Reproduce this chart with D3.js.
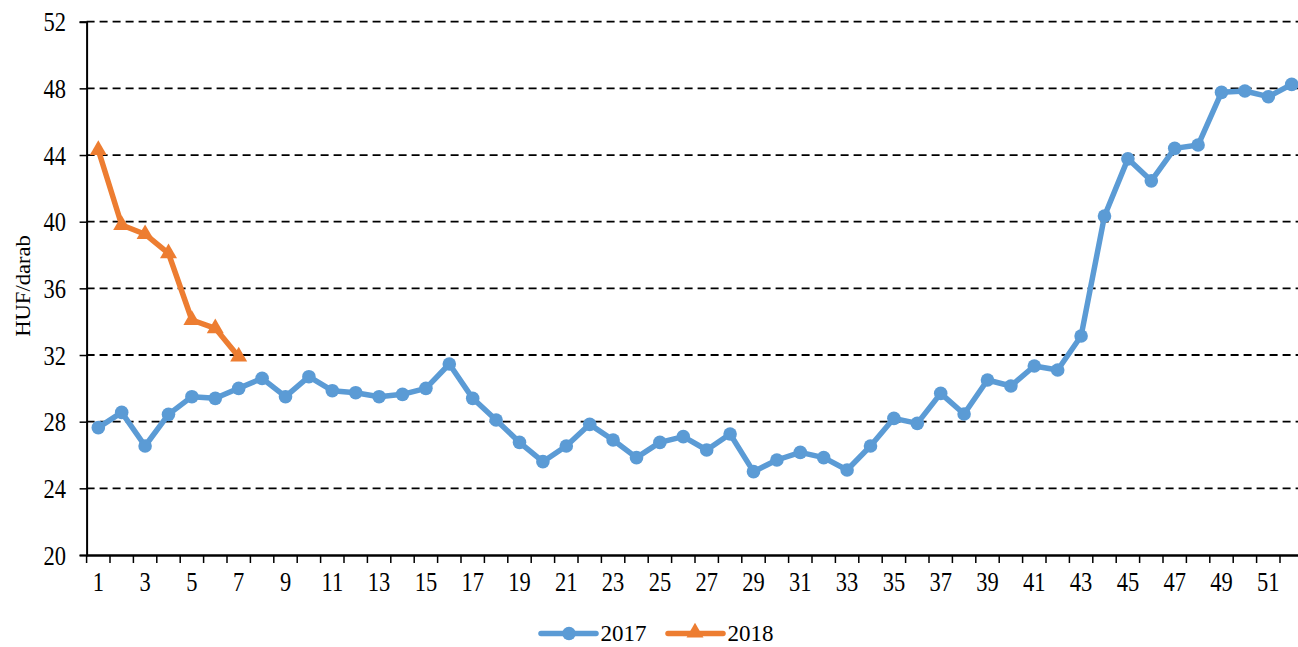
<!DOCTYPE html>
<html><head><meta charset="utf-8">
<script src="https://cdn.jsdelivr.net/npm/d3@7"></script>
<style>body{margin:0;background:#fff}svg{display:block}</style>
</head><body>
<svg id="c" width="1298" height="647"></svg>
<script>
const weeks = d3.range(1, 53);
const values2017 = [27.64,28.56,26.54,28.44,29.5,29.4,30.0,30.6,29.5,30.7,29.86,29.74,29.5,29.64,30.0,31.46,29.4,28.1,26.76,25.6,26.54,27.84,26.9,25.84,26.76,27.1,26.3,27.26,25.0,25.7,26.16,25.84,25.1,26.54,28.2,27.9,29.7,28.46,30.5,30.14,31.34,31.1,33.14,40.34,43.77,42.45,44.4,44.6,47.76,47.84,47.5,48.24];
const values2018 = [44.3,39.8,39.25,38.1,34.1,33.6,31.9];
const yTicks = [20,24,28,32,36,40,44,48,52];
const seriesNames = ["2017","2018"];
const colors = ["#5B9BD5","#ED7D31"];

(function(){
const svg = d3.select("#c");
const mLeft = 86.6, mRight = 1303.4, mTop = 21.7, mBottom = 555;
const x = d3.scaleBand().domain(weeks).range([mLeft, mRight]);
const y = d3.scaleLinear().domain([20, 52]).range([mBottom, mTop]);
const font = "'Liberation Serif','Times New Roman',serif";
const fs = 22.5, sy = 1.2;

// gridlines
svg.append("g").selectAll("line").data(yTicks.filter(d => d > 20)).join("line")
  .attr("x1", mLeft).attr("x2", 1298).attr("y1", d => y(d)).attr("y2", d => y(d))
  .attr("stroke", "#000").attr("stroke-width", 1.8).attr("stroke-dasharray", "8,5");

// y axis
const yAxis = svg.append("g").attr("transform", `translate(${mLeft},0)`)
  .call(d3.axisLeft(y).tickValues(yTicks).tickSize(7));
yAxis.select(".domain").attr("stroke", "#000").attr("stroke-width", 2);
yAxis.selectAll(".tick line").attr("stroke", "#000").attr("stroke-width", 1.5);
yAxis.selectAll("text").attr("font-family", font).attr("font-size", fs).attr("fill", "#000")
  .attr("x", -20.5).attr("dy", null).attr("y", 0).attr("transform", `scale(1,${sy}) translate(0,${0.34*fs})`);

// x axis
const xAxis = svg.append("g").attr("transform", `translate(0,${mBottom})`)
  .call(d3.axisBottom(x).tickValues(weeks.filter(d => d % 2 === 1)).tickSize(0));
xAxis.select(".domain").attr("stroke", "#000").attr("stroke-width", 2.5);
xAxis.selectAll("text").attr("font-family", font).attr("font-size", fs).attr("fill", "#000")
  .attr("dy", null).attr("y", 0).attr("transform", `translate(0,36) scale(1,${sy})`);
svg.append("g").selectAll("line").data(weeks).join("line")
  .attr("x1", d => x(d)).attr("x2", d => x(d)).attr("y1", mBottom).attr("y2", mBottom + 8)
  .attr("stroke", "#000").attr("stroke-width", 1.5);

// y label
svg.append("text").attr("transform", `translate(30,286) rotate(-90) scale(1.05,1)`)
  .attr("text-anchor", "middle").attr("font-family", font).attr("font-size", 21.5).text("HUF/darab");

const cx = d => x(d) + x.bandwidth() / 2;
const line = d3.line().x((d, i) => cx(weeks[i])).y(d => y(d));

svg.append("path").datum(values2017).attr("d", line).attr("fill", "none")
  .attr("stroke", colors[0]).attr("stroke-width", 5.5).attr("stroke-linejoin", "round");
svg.append("g").selectAll("circle").data(values2017).join("circle")
  .attr("cx", (d, i) => cx(weeks[i])).attr("cy", d => y(d)).attr("r", 6.8).attr("fill", colors[0]);

svg.append("path").datum(values2018).attr("d", line).attr("fill", "none")
  .attr("stroke", colors[1]).attr("stroke-width", 5.5).attr("stroke-linejoin", "round");
const tri = d3.symbol().type(d3.symbolTriangle).size(125);
svg.append("g").selectAll("path").data(values2018).join("path")
  .attr("transform", (d, i) => `translate(${cx(weeks[i])},${y(d)})`).attr("d", tri).attr("fill", colors[1]);

const leg = [{x: 541, name: seriesNames[0], c: colors[0], m: "c"}, {x: 668, name: seriesNames[1], c: colors[1], m: "t"}];
const ly = 633.5;
leg.forEach(l => {
  svg.append("line").attr("x1", l.x).attr("x2", l.x + 55).attr("y1", ly).attr("y2", ly)
    .attr("stroke", l.c).attr("stroke-width", 5.5).attr("stroke-linecap", "round");
  if (l.m === "c") svg.append("circle").attr("cx", l.x + 28).attr("cy", ly).attr("r", 6.8).attr("fill", l.c);
  else svg.append("path").attr("transform", `translate(${l.x + 27},${ly - 1})`).attr("d", tri).attr("fill", l.c);
  svg.append("text").attr("x", l.x + 59.5).attr("y", 641)
    .attr("font-family", font).attr("font-size", 23).text(l.name);
});
})();
</script>
</body></html>
